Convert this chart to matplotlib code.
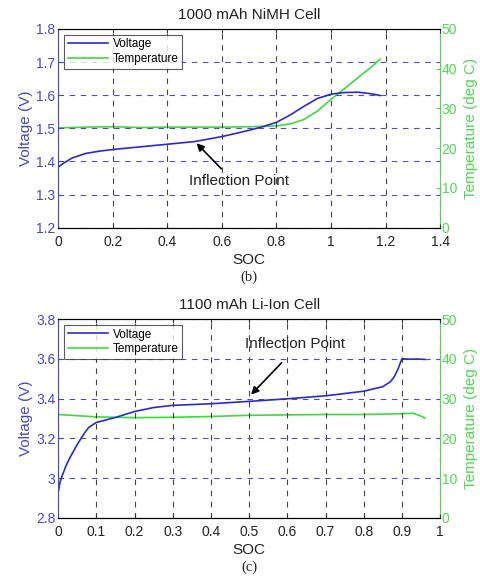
import matplotlib
matplotlib.use("Agg")
import matplotlib.pyplot as plt
import numpy as np

plt.rcParams['font.family'] = ['Liberation Sans', 'DejaVu Sans']

VBLUE = '#2a2ad0'
TGREEN = '#3cdc3c'
AXBLUE = '#4848c0'
AXGREEN = '#50d850'

# ---- NiMH data ----
nimh_soc_v = [0.0, 0.02, 0.05, 0.1, 0.15, 0.2, 0.3, 0.4, 0.5, 0.6, 0.7, 0.75, 0.8, 0.85, 0.9, 0.95, 1.0, 1.05, 1.1, 1.15, 1.18]
nimh_volt = [1.383, 1.395, 1.410, 1.424, 1.431, 1.436, 1.444, 1.452, 1.460, 1.475, 1.494, 1.505, 1.518, 1.540, 1.566, 1.590, 1.603, 1.608, 1.609, 1.604, 1.599]
nimh_soc_t = [0.0, 0.1, 0.2, 0.3, 0.4, 0.5, 0.6, 0.7, 0.8, 0.85, 0.9, 0.95, 1.0, 1.05, 1.1, 1.15, 1.18]
nimh_temp = [25.1, 25.3, 25.4, 25.2, 25.3, 25.3, 25.3, 25.4, 25.6, 26.1, 27.2, 29.3, 32.3, 35.0, 37.8, 40.5, 42.4]

# ---- Li-Ion data ----
li_soc_v = [0.0, 0.005, 0.01, 0.02, 0.03, 0.05, 0.07, 0.08, 0.1, 0.15, 0.2, 0.25, 0.3, 0.4, 0.5, 0.6, 0.7, 0.8, 0.85, 0.87, 0.88, 0.89, 0.9, 0.92, 0.94, 0.96]
li_volt = [2.93, 2.98, 3.01, 3.06, 3.10, 3.17, 3.23, 3.255, 3.28, 3.305, 3.335, 3.355, 3.366, 3.374, 3.386, 3.399, 3.414, 3.437, 3.46, 3.485, 3.51, 3.55, 3.60, 3.598, 3.599, 3.597]
li_soc_t = [0.0, 0.05, 0.1, 0.15, 0.2, 0.3, 0.4, 0.5, 0.6, 0.7, 0.8, 0.85, 0.9, 0.93, 0.95, 0.96]
li_temp = [26.0, 25.7, 25.4, 25.3, 25.2, 25.3, 25.5, 25.8, 25.9, 26.0, 26.0, 26.1, 26.2, 26.3, 25.6, 25.1]

fig = plt.figure(figsize=(4.81, 5.78), dpi=100)

def make_panel(rect, title, sv, v, st, t, xlim, xticks, xticklabels, ylim, yticks, yticklabels, ann_xy, ann_text, label):
    ax = fig.add_axes(rect)
    ax2 = ax.twinx()
    ax.set_zorder(ax2.get_zorder() + 1)
    ax.patch.set_visible(False)
    lv, = ax.plot(sv, v, color=VBLUE, lw=1.2, label='Voltage')
    lt, = ax2.plot(st, t, color=TGREEN, lw=1.2, label='Temperature')
    ax.set_xlim(*xlim)
    ax.set_ylim(*ylim)
    ax2.set_ylim(0, 50)
    ax.set_xticks(xticks)
    ax.set_xticklabels(xticklabels)
    ax.set_yticks(yticks)
    ax.set_yticklabels(yticklabels)
    ax2.set_yticks([0, 10, 20, 30, 40, 50])
    ax.tick_params(axis='both', direction='in', length=3, labelsize=10)
    ax.tick_params(axis='y', colors=AXBLUE, labelcolor=AXBLUE, pad=2)
    ax.tick_params(axis='x', colors='#333333', labelcolor='#222222', top=True, pad=5)
    ax2.tick_params(axis='y', direction='in', length=3, labelsize=10, colors=AXGREEN, labelcolor=AXGREEN, pad=1)
    ax.spines['left'].set_color(AXBLUE)
    ax.spines['right'].set_visible(False)
    ax2.spines['left'].set_visible(False)
    ax2.spines['right'].set_color(AXGREEN)
    ax2.spines['top'].set_color('#555555')
    ax2.spines['bottom'].set_color('#222222')
    ax.xaxis.grid(True, linestyle=(0, (5, 5)), color='#444444', lw=0.8)
    ax.yaxis.grid(True, linestyle=(0, (5, 5)), color='#5050b0', lw=0.8)
    ax.set_axisbelow(True)
    ax.set_title(title, fontsize=11, pad=7, color='#222222')
    ax.set_xlabel('SOC', fontsize=11, labelpad=3, color='#222222')
    ax.set_ylabel('Voltage (V)', fontsize=11, color=AXBLUE, labelpad=2)
    ax2.set_ylabel('Temperature (deg C)', fontsize=11, color=AXGREEN, labelpad=5)
    leg = ax.legend(handles=[lv, lt], loc='upper left', fontsize=8.5, frameon=True, fancybox=False,
                    edgecolor='#333333', borderpad=0.3, handlelength=3.4, labelspacing=0.25,
                    handletextpad=0.4, borderaxespad=0.5)
    leg.get_frame().set_linewidth(0.8)
    (hx, hy), (tx, ty), (lx, ly) = ann_xy
    ax.annotate('', xy=(hx, hy), xytext=(tx, ty),
                arrowprops=dict(arrowstyle='-|>', color='black', lw=1.2, mutation_scale=11))
    ax.text(lx, ly, ann_text, ha='center', va='center', fontsize=11, color='#222222')
    ax.text(0.5, -0.25, label, transform=ax.transAxes, ha='center', va='center',
            fontsize=10.5, family=['Liberation Serif'], color='#222222')
    return ax

make_panel([0.121, 0.606, 0.794, 0.344], '1000 mAh NiMH Cell',
           nimh_soc_v, nimh_volt, nimh_soc_t, nimh_temp,
           (0, 1.4), [0, 0.2, 0.4, 0.6, 0.8, 1.0, 1.2, 1.4], ['0', '0.2', '0.4', '0.6', '0.8', '1', '1.2', '1.4'],
           (1.2, 1.8), [1.2, 1.3, 1.4, 1.5, 1.6, 1.7, 1.8], ['1.2', '1.3', '1.4', '1.5', '1.6', '1.7', '1.8'],
           ((0.5, 1.461), (0.605, 1.372), (0.664, 1.341)), 'Inflection Point', '(b)')

make_panel([0.121, 0.104, 0.794, 0.344], '1100 mAh Li-Ion Cell',
           li_soc_v, li_volt, li_soc_t, li_temp,
           (0, 1.0), [0, 0.1, 0.2, 0.3, 0.4, 0.5, 0.6, 0.7, 0.8, 0.9, 1.0],
           ['0', '0.1', '0.2', '0.3', '0.4', '0.5', '0.6', '0.7', '0.8', '0.9', '1'],
           (2.8, 3.8), [2.8, 3.0, 3.2, 3.4, 3.6, 3.8], ['2.8', '3', '3.2', '3.4', '3.6', '3.8'],
           ((0.5, 3.41), (0.59, 3.59), (0.62, 3.674)), 'Inflection Point', '(c)')

fig.savefig('out.png', dpi=100)
